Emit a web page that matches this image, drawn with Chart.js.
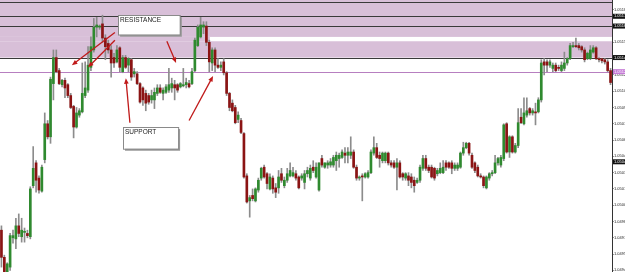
<!DOCTYPE html>
<html>
<head>
<meta charset="utf-8">
<script src="https://cdn.jsdelivr.net/npm/chart.js@4.4.0/dist/chart.umd.min.js"></script>
<style>
  body { margin: 0; background: #fff; }
  #wrap { width: 625px; height: 272px; position: relative; }
</style>
</head>
<body>
<div id="wrap"><canvas id="chart"></canvas></div>
<script>
// OHLC, one entry per candle, left to right
const opens = [
  1.04977, 1.04952, 1.04938, 1.04943, 1.04970, 1.04969, 1.04981, 1.04971, 1.04975, 1.04974,
  1.04971, 1.05018, 1.05039, 1.05025, 1.05013, 1.05042, 1.05075, 1.05063, 1.05112, 1.05136,
  1.05124, 1.05111, 1.05115, 1.05111, 1.05101, 1.05091, 1.05072, 1.05083, 1.05086, 1.05101,
  1.05106, 1.05127, 1.05143, 1.05164, 1.05164, 1.05167, 1.05154, 1.05149, 1.05143, 1.05136,
  1.05132, 1.05145, 1.05123, 1.05136, 1.05129, 1.05134, 1.05121, 1.05121, 1.05112, 1.05108,
  1.05103, 1.05101, 1.05097, 1.05097, 1.05103, 1.05108, 1.05103, 1.05104, 1.05106, 1.05108,
  1.05111, 1.05111, 1.05109, 1.05110, 1.05111, 1.05112, 1.05112, 1.05124, 1.05147, 1.05155,
  1.05164, 1.05165, 1.05150, 1.05131, 1.05143, 1.05129, 1.05127, 1.05132, 1.05122, 1.05103,
  1.05094, 1.05090, 1.05079, 1.05078, 1.05066, 1.05027, 1.05004, 1.05009, 1.05004, 1.05014,
  1.05025, 1.05035, 1.05029, 1.05015, 1.05025, 1.05016, 1.05016, 1.05029, 1.05018, 1.05023,
  1.05027, 1.05027, 1.05029, 1.05026, 1.05025, 1.05021, 1.05029, 1.05025, 1.05035, 1.05026,
  1.05014, 1.05043, 1.05035, 1.05037, 1.05037, 1.05037, 1.05041, 1.05043, 1.05044, 1.05048,
  1.05046, 1.05046, 1.05049, 1.05035, 1.05025, 1.05027, 1.05026, 1.05026, 1.05030, 1.05048,
  1.05053, 1.05046, 1.05041, 1.05041, 1.05048, 1.05039, 1.05039, 1.05035, 1.05039, 1.05029,
  1.05025, 1.05027, 1.05026, 1.05023, 1.05021, 1.05023, 1.05034, 1.05043, 1.05035, 1.05035,
  1.05034, 1.05029, 1.05030, 1.05030, 1.05039, 1.05039, 1.05039, 1.05034, 1.05034, 1.05035,
  1.05048, 1.05053, 1.05057, 1.05046, 1.05039, 1.05035, 1.05027, 1.05026, 1.05016, 1.05025,
  1.05029, 1.05030, 1.05039, 1.05037, 1.05043, 1.05075, 1.05049, 1.05063, 1.05049, 1.05055,
  1.05081, 1.05075, 1.05083, 1.05089, 1.05085, 1.05086, 1.05086, 1.05097, 1.05132, 1.05132,
  1.05129, 1.05126, 1.05129, 1.05127, 1.05124, 1.05126, 1.05131, 1.05135, 1.05146, 1.05147,
  1.05147, 1.05146, 1.05143, 1.05135, 1.05135, 1.05141, 1.05145, 1.05135, 1.05135, 1.05134,
  1.05132, 1.05124
]
const highs = [
  1.04981, 1.04954, 1.04947, 1.04974, 1.04977, 1.04988, 1.04992, 1.04988, 1.04979, 1.04977,
  1.05017, 1.05054, 1.05041, 1.05027, 1.05037, 1.05085, 1.05078, 1.05118, 1.05143, 1.05143,
  1.05126, 1.05116, 1.05117, 1.05112, 1.05103, 1.05092, 1.05090, 1.05089, 1.05131, 1.05132,
  1.05146, 1.05155, 1.05172, 1.05173, 1.05166, 1.05175, 1.05157, 1.05152, 1.05147, 1.05140,
  1.05147, 1.05146, 1.05138, 1.05138, 1.05136, 1.05135, 1.05126, 1.05123, 1.05113, 1.05109,
  1.05106, 1.05103, 1.05106, 1.05108, 1.05111, 1.05111, 1.05108, 1.05111, 1.05126, 1.05117,
  1.05115, 1.05112, 1.05113, 1.05126, 1.05117, 1.05115, 1.05126, 1.05154, 1.05166, 1.05173,
  1.05169, 1.05169, 1.05152, 1.05145, 1.05145, 1.05135, 1.05132, 1.05135, 1.05123, 1.05104,
  1.05097, 1.05092, 1.05086, 1.05080, 1.05067, 1.05029, 1.05009, 1.05015, 1.05016, 1.05025,
  1.05035, 1.05037, 1.05030, 1.05029, 1.05027, 1.05020, 1.05032, 1.05034, 1.05026, 1.05034,
  1.05039, 1.05035, 1.05032, 1.05027, 1.05029, 1.05032, 1.05035, 1.05037, 1.05041, 1.05039,
  1.05039, 1.05046, 1.05039, 1.05041, 1.05043, 1.05046, 1.05049, 1.05048, 1.05051, 1.05053,
  1.05053, 1.05063, 1.05051, 1.05037, 1.05027, 1.05029, 1.05030, 1.05032, 1.05051, 1.05063,
  1.05057, 1.05049, 1.05049, 1.05049, 1.05049, 1.05041, 1.05041, 1.05043, 1.05041, 1.05030,
  1.05030, 1.05030, 1.05029, 1.05026, 1.05025, 1.05037, 1.05046, 1.05046, 1.05037, 1.05037,
  1.05035, 1.05034, 1.05039, 1.05041, 1.05041, 1.05040, 1.05041, 1.05039, 1.05039, 1.05049,
  1.05058, 1.05058, 1.05058, 1.05048, 1.05040, 1.05037, 1.05029, 1.05027, 1.05027, 1.05030,
  1.05032, 1.05046, 1.05044, 1.05046, 1.05075, 1.05076, 1.05064, 1.05064, 1.05057, 1.05089,
  1.05089, 1.05099, 1.05099, 1.05090, 1.05089, 1.05094, 1.05099, 1.05134, 1.05135, 1.05134,
  1.05134, 1.05131, 1.05131, 1.05129, 1.05132, 1.05141, 1.05136, 1.05149, 1.05150, 1.05154,
  1.05149, 1.05147, 1.05145, 1.05141, 1.05147, 1.05147, 1.05146, 1.05136, 1.05135, 1.05135,
  1.05134, 1.05126
]
const lows = [
  1.04943, 1.04934, 1.04935, 1.04940, 1.04965, 1.04960, 1.04971, 1.04966, 1.04966, 1.04970,
  1.04969, 1.05016, 1.05012, 1.05011, 1.05012, 1.05039, 1.05061, 1.05057, 1.05097, 1.05122,
  1.05111, 1.05109, 1.05099, 1.05099, 1.05089, 1.05062, 1.05071, 1.05081, 1.05085, 1.05099,
  1.05104, 1.05124, 1.05141, 1.05155, 1.05162, 1.05150, 1.05134, 1.05140, 1.05118, 1.05127,
  1.05131, 1.05123, 1.05122, 1.05126, 1.05123, 1.05115, 1.05118, 1.05111, 1.05094, 1.05092,
  1.05087, 1.05093, 1.05094, 1.05089, 1.05101, 1.05103, 1.05097, 1.05103, 1.05104, 1.05104,
  1.05097, 1.05104, 1.05108, 1.05109, 1.05108, 1.05108, 1.05111, 1.05123, 1.05146, 1.05154,
  1.05158, 1.05147, 1.05123, 1.05124, 1.05123, 1.05126, 1.05124, 1.05120, 1.05101, 1.05087,
  1.05086, 1.05075, 1.05076, 1.05066, 1.05025, 1.05002, 1.04989, 1.05004, 1.05003, 1.05012,
  1.05023, 1.05025, 1.05015, 1.05014, 1.05011, 1.05007, 1.05011, 1.05021, 1.05016, 1.05021,
  1.05026, 1.05026, 1.05023, 1.05015, 1.05023, 1.05015, 1.05026, 1.05023, 1.05030, 1.05025,
  1.05013, 1.05035, 1.05034, 1.05034, 1.05035, 1.05035, 1.05032, 1.05035, 1.05043, 1.05039,
  1.05039, 1.05043, 1.05034, 1.05023, 1.05023, 1.05004, 1.05025, 1.05025, 1.05029, 1.05046,
  1.05043, 1.05035, 1.05039, 1.05039, 1.05037, 1.05035, 1.05034, 1.05014, 1.05025, 1.05023,
  1.05023, 1.05018, 1.05016, 1.05012, 1.05020, 1.05021, 1.05032, 1.05032, 1.05030, 1.05025,
  1.05023, 1.05027, 1.05029, 1.05029, 1.05032, 1.05034, 1.05029, 1.05032, 1.05032, 1.05034,
  1.05046, 1.05052, 1.05046, 1.05034, 1.05030, 1.05026, 1.05025, 1.05016, 1.05015, 1.05023,
  1.05027, 1.05029, 1.05037, 1.05035, 1.05041, 1.05048, 1.05044, 1.05048, 1.05048, 1.05053,
  1.05075, 1.05074, 1.05081, 1.05083, 1.05083, 1.05074, 1.05085, 1.05095, 1.05120, 1.05123,
  1.05127, 1.05123, 1.05123, 1.05124, 1.05123, 1.05124, 1.05129, 1.05134, 1.05145, 1.05145,
  1.05143, 1.05141, 1.05132, 1.05134, 1.05134, 1.05140, 1.05134, 1.05132, 1.05131, 1.05130,
  1.05123, 1.05111
]
const closes = [
  1.04952, 1.04938, 1.04946, 1.04972, 1.04972, 1.04981, 1.04974, 1.04977, 1.04976, 1.04972,
  1.05015, 1.05034, 1.05023, 1.05014, 1.05035, 1.05075, 1.05063, 1.05116, 1.05136, 1.05123,
  1.05112, 1.05115, 1.05108, 1.05101, 1.05090, 1.05072, 1.05085, 1.05087, 1.05103, 1.05108,
  1.05129, 1.05146, 1.05164, 1.05166, 1.05165, 1.05154, 1.05146, 1.05143, 1.05131, 1.05131,
  1.05143, 1.05127, 1.05136, 1.05127, 1.05135, 1.05118, 1.05123, 1.05112, 1.05095, 1.05097,
  1.05094, 1.05095, 1.05101, 1.05104, 1.05108, 1.05104, 1.05106, 1.05109, 1.05111, 1.05112,
  1.05108, 1.05106, 1.05112, 1.05111, 1.05113, 1.05109, 1.05123, 1.05152, 1.05164, 1.05166,
  1.05166, 1.05150, 1.05132, 1.05143, 1.05129, 1.05127, 1.05129, 1.05122, 1.05103, 1.05090,
  1.05087, 1.05076, 1.05083, 1.05067, 1.05026, 1.05003, 1.05007, 1.05006, 1.05015, 1.05023,
  1.05034, 1.05026, 1.05020, 1.05026, 1.05015, 1.05012, 1.05026, 1.05023, 1.05023, 1.05029,
  1.05032, 1.05030, 1.05025, 1.05016, 1.05027, 1.05029, 1.05032, 1.05034, 1.05032, 1.05035,
  1.05039, 1.05037, 1.05039, 1.05039, 1.05040, 1.05044, 1.05046, 1.05046, 1.05049, 1.05046,
  1.05049, 1.05049, 1.05035, 1.05025, 1.05026, 1.05026, 1.05029, 1.05030, 1.05049, 1.05053,
  1.05044, 1.05043, 1.05048, 1.05048, 1.05039, 1.05037, 1.05035, 1.05039, 1.05026, 1.05026,
  1.05029, 1.05023, 1.05021, 1.05018, 1.05023, 1.05035, 1.05043, 1.05034, 1.05032, 1.05026,
  1.05025, 1.05032, 1.05034, 1.05035, 1.05035, 1.05035, 1.05034, 1.05037, 1.05037, 1.05048,
  1.05053, 1.05057, 1.05048, 1.05035, 1.05032, 1.05027, 1.05026, 1.05018, 1.05026, 1.05029,
  1.05030, 1.05039, 1.05043, 1.05044, 1.05074, 1.05049, 1.05063, 1.05049, 1.05055, 1.05076,
  1.05076, 1.05085, 1.05087, 1.05085, 1.05087, 1.05085, 1.05097, 1.05131, 1.05129, 1.05129,
  1.05132, 1.05129, 1.05124, 1.05126, 1.05129, 1.05131, 1.05135, 1.05147, 1.05147, 1.05146,
  1.05145, 1.05143, 1.05134, 1.05140, 1.05143, 1.05145, 1.05135, 1.05134, 1.05133, 1.05132,
  1.05124, 1.05113
]
const labels = opens.map((_, i) => i + 1)

// price axis
const tickValues = [1.0518, 1.05165, 1.0515, 1.05135, 1.0512, 1.05105, 1.0509, 1.05075, 1.0506,
  1.05045, 1.0503, 1.05015, 1.05, 1.04985, 1.0497, 1.04955, 1.0494]
const tickLabels = ['1.0518', '1.0516', '1.0515', '1.0513', '1.0512', '1.0510', '1.0509', '1.0507', '1.0506',
  '1.0504', '1.0503', '1.0501', '1.0500', '1.0498', '1.0497', '1.0495', '1.0494']

// drawn levels
const blackLevels = [1.05187, 1.05174, 1.05165, 1.05136]
const purpleLevel = 1.05123
const markerLevel = 1.0504
// shaded zones: [top, bottom, fromIndex, toIndex] (null = full width)
const zones = [
  [1.05192, 1.05155, null, null],
  [1.05151, 1.05136, null, null],
  [1.05155, 1.05151, null, 72.2],
]

// annotations in (candle index, price)
const boxes = [
  { text: 'RESISTANCE', x0: 40.4, x1: 61.8, y0: 1.05175, y1: 1.05157 },
  { text: 'SUPPORT', x0: 42.1, x1: 61.2, y0: 1.05072, y1: 1.05052 },
]
const arrows = [
  [39.3, 1.05159, 24.4, 1.05129],
  [39.3, 1.05152, 30.0, 1.05127],
  [57.3, 1.05151, 60.5, 1.05131],
  [44.5, 1.05076, 43.1, 1.05117],
  [65.0, 1.05078, 73.3, 1.05119],
]

const UP = '#2f8a2f'
const DOWN = '#8b1414'
const bodyColors = opens.map((o, i) => (closes[i] >= o ? UP : DOWN))

const levelsPlugin = {
  id: 'levels',
  beforeDatasetsDraw(chart) {
    const { ctx, chartArea, scales } = chart
    const x = scales.x, y = scales.y
    ctx.save()
    ctx.fillStyle = '#d8bfd8'
    zones.forEach(([top, bottom, from, to]) => {
      const l = from === null ? chartArea.left : x.getPixelForValue(from)
      const r = to === null ? chartArea.right : x.getPixelForValue(to)
      const t = Math.max(y.getPixelForValue(top), chartArea.top)
      const b = y.getPixelForValue(bottom)
      ctx.fillRect(l, t, r - l, b - t)
    })
    ctx.lineWidth = 1
    ctx.strokeStyle = '#3a3a3a'
    blackLevels.forEach((p) => {
      const py = Math.round(y.getPixelForValue(p)) + 0.5
      ctx.beginPath()
      ctx.moveTo(chartArea.left, py)
      ctx.lineTo(chartArea.right, py)
      ctx.stroke()
    })
    ctx.strokeStyle = '#b77fc0'
    const pp = Math.round(y.getPixelForValue(purpleLevel)) + 0.5
    ctx.beginPath()
    ctx.moveTo(chartArea.left, pp)
    ctx.lineTo(chartArea.right, pp)
    ctx.stroke()
    ctx.restore()
  },
  afterDraw(chart) {
    const { ctx, chartArea, scales } = chart
    const x = scales.x, y = scales.y
    ctx.save()

    // arrows
    ctx.strokeStyle = '#c01a1a'
    ctx.fillStyle = '#c01a1a'
    ctx.lineWidth = 1.3
    arrows.forEach(([i0, p0, i1, p1]) => {
      const ax = x.getPixelForValue(i0), ay = y.getPixelForValue(p0)
      const bx = x.getPixelForValue(i1), by = y.getPixelForValue(p1)
      const ang = Math.atan2(by - ay, bx - ax)
      ctx.beginPath()
      ctx.moveTo(ax, ay)
      ctx.lineTo(bx - 3 * Math.cos(ang), by - 3 * Math.sin(ang))
      ctx.stroke()
      ctx.beginPath()
      ctx.moveTo(bx, by)
      ctx.lineTo(bx - 6 * Math.cos(ang - 0.4), by - 6 * Math.sin(ang - 0.4))
      ctx.lineTo(bx - 6 * Math.cos(ang + 0.4), by - 6 * Math.sin(ang + 0.4))
      ctx.closePath()
      ctx.fill()
    })

    // text boxes
    boxes.forEach((b) => {
      const l = x.getPixelForValue(b.x0), r = x.getPixelForValue(b.x1)
      const t = y.getPixelForValue(b.y0), bt = y.getPixelForValue(b.y1)
      ctx.fillStyle = '#9a9a9a'
      ctx.fillRect(l + 2, t + 2, r - l, bt - t)
      ctx.fillStyle = '#fff'
      ctx.fillRect(l, t, r - l, bt - t)
      ctx.strokeStyle = '#8a8a8a'
      ctx.lineWidth = 1
      ctx.strokeRect(Math.round(l) + 0.5, Math.round(t) + 0.5, r - l, bt - t)
      ctx.fillStyle = '#222'
      ctx.font = '6.5px "Liberation Sans", Arial, sans-serif'
      ctx.textBaseline = 'top'
      ctx.fillText(b.text, l + 2, t + 2)
    })

    // price tags on the axis
    ctx.font = '4px "Liberation Sans", Arial, sans-serif'
    ctx.textBaseline = 'middle'
    const tag = (p, bg) => {
      const py = y.getPixelForValue(p)
      ctx.fillStyle = bg
      ctx.fillRect(chartArea.right + 1, py - 2.5, 12, 5)
      ctx.fillStyle = '#fff'
      ctx.fillText(p.toFixed(4), chartArea.right + 2, py)
    }
    blackLevels.slice(1).forEach((p) => tag(p, '#111'))
    tag(purpleLevel, '#c57ad6')
    tag(markerLevel, '#111')
    ctx.restore()
  },
}

new Chart(document.getElementById('chart'), {
  type: 'bar',
  data: {
    labels: labels,
    datasets: [
      {
        label: 'wick',
        data: lows.map((l, i) => [l, highs[i]]),
        backgroundColor: '#8c8c8c',
        barThickness: 1,
        grouped: false,
        order: 2,
      },
      {
        label: 'body',
        data: opens.map((o, i) => [o, closes[i]]),
        backgroundColor: bodyColors,
        barThickness: 2,
        minBarLength: 1,
        grouped: false,
        order: 1,
      },
    ],
  },
  options: {
    responsive: true,
    maintainAspectRatio: false,
    animation: false,
    events: [],
    layout: { padding: 0 },
    plugins: { legend: { display: false }, tooltip: { enabled: false } },
    scales: {
      x: { display: false, offset: true },
      y: {
        position: 'right',
        min: 1.049385,
        max: 1.05189,
        afterFit: (s) => {
          s.width = 13
          s.paddingTop = 0
          s.paddingBottom = 0
        },
        afterBuildTicks: (s) => {
          s.ticks = tickValues.map((v) => ({ value: v }))
        },
        ticks: {
          autoSkip: false,
          padding: 0.5,
          color: '#222',
          font: { size: 4, family: '"Liberation Sans", Arial, sans-serif' },
          callback: (v, i) => tickLabels[i],
        },
        grid: { drawOnChartArea: false, tickLength: 1.5, color: '#333' },
        border: { color: '#333' },
      },
    },
  },
  plugins: [levelsPlugin],
})
</script>
</body>
</html>
